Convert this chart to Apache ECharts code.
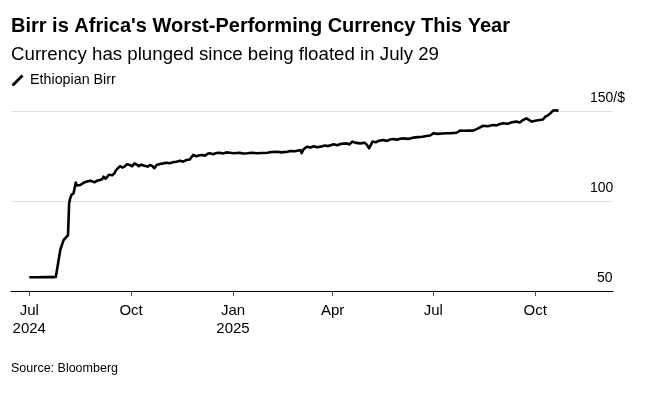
<!DOCTYPE html>
<html>
<head>
<meta charset="utf-8">
<script src="https://cdn.jsdelivr.net/npm/echarts@6/dist/echarts.min.js"></script>
<style>
    html, body { margin: 0; padding: 0; background: #fff; }
    #main { width: 657px; height: 397px; }
</style>
</head>
<body>
<div id="main"></div>
<script>
    // ETB per USD
    var dates = [
        '2024-07-01', '2024-07-08', '2024-07-15', '2024-07-22', '2024-07-25', '2024-07-29', '2024-07-31',
        '2024-08-01', '2024-08-05', '2024-08-06', '2024-08-07', '2024-08-08', '2024-08-10', '2024-08-12',
        '2024-08-13', '2024-08-14', '2024-08-16', '2024-08-19', '2024-08-20', '2024-08-22', '2024-08-25',
        '2024-08-27', '2024-08-29', '2024-08-31', '2024-09-03', '2024-09-05', '2024-09-06', '2024-09-08',
        '2024-09-09', '2024-09-11', '2024-09-12', '2024-09-14', '2024-09-16', '2024-09-17', '2024-09-19',
        '2024-09-20', '2024-09-21', '2024-09-23', '2024-09-25', '2024-09-27', '2024-09-30', '2024-10-02',
        '2024-10-04', '2024-10-06', '2024-10-08', '2024-10-10', '2024-10-13', '2024-10-16', '2024-10-18',
        '2024-10-20', '2024-10-22', '2024-10-24', '2024-10-27', '2024-10-30', '2024-11-02', '2024-11-05',
        '2024-11-08', '2024-11-11', '2024-11-14', '2024-11-17', '2024-11-20', '2024-11-23', '2024-11-26',
        '2024-11-29', '2024-12-01', '2024-12-04', '2024-12-07', '2024-12-09', '2024-12-11', '2024-12-14',
        '2024-12-17', '2024-12-20', '2024-12-23', '2024-12-26', '2024-12-29', '2025-01-02', '2025-01-07',
        '2025-01-10', '2025-01-14', '2025-01-18', '2025-01-23', '2025-01-27', '2025-02-01', '2025-02-05',
        '2025-02-10', '2025-02-14', '2025-02-19', '2025-02-22', '2025-02-26', '2025-03-03', '2025-03-04',
        '2025-03-06', '2025-03-09', '2025-03-12', '2025-03-15', '2025-03-18', '2025-03-21', '2025-03-25',
        '2025-03-28', '2025-04-02', '2025-04-05', '2025-04-09', '2025-04-14', '2025-04-16', '2025-04-19',
        '2025-04-22', '2025-04-26', '2025-04-30', '2025-05-02', '2025-05-04', '2025-05-07', '2025-05-10',
        '2025-05-13', '2025-05-17', '2025-05-20', '2025-05-23', '2025-05-26', '2025-05-29', '2025-06-01',
        '2025-06-04', '2025-06-08', '2025-06-13', '2025-06-17', '2025-06-21', '2025-06-25', '2025-06-28',
        '2025-07-01', '2025-07-05', '2025-07-09', '2025-07-13', '2025-07-17', '2025-07-22', '2025-07-25',
        '2025-07-29', '2025-08-02', '2025-08-06', '2025-08-10', '2025-08-15', '2025-08-19', '2025-08-24',
        '2025-08-27', '2025-08-30', '2025-09-02', '2025-09-06', '2025-09-10', '2025-09-14', '2025-09-17',
        '2025-09-20', '2025-09-23', '2025-09-26', '2025-09-28', '2025-10-01', '2025-10-05', '2025-10-08',
        '2025-10-10', '2025-10-12', '2025-10-14', '2025-10-17', '2025-10-20', '2025-10-22'
    ];
    var birr = [
        57.6, 57.6, 57.7, 57.7, 57.8, 72.8, 76.5,
        78.3, 81.1, 98.7, 101.5, 103.3, 104.3, 110.2,
        108.6, 109.4, 108.9, 110.1, 109.8, 110.8, 111.3,
        110.9, 110.4, 111.2, 111.7, 112.2, 113.5, 112.4,
        112.6, 114.6, 115.4, 114.3, 115.4, 116.8, 118.2,
        117.1, 119.4, 118.6, 119.1, 120.4, 120.0, 119.3,
        120.9, 120.3, 119.4, 120.2, 119.6, 119.1, 120.0,
        119.5, 118.2, 120.0, 120.6, 120.9, 121.3, 121.0,
        121.6, 121.8, 122.3, 121.9, 122.8, 123.1, 125.6,
        124.9, 125.3, 125.6, 125.2, 126.3, 126.5, 126.0,
        126.7, 126.8, 126.4, 127.0, 126.8, 126.5, 126.8,
        126.4, 126.5, 126.8, 126.5, 126.7, 126.8, 127.2,
        127.4, 127.0, 127.4, 127.8, 127.6, 128.3, 126.6,
        128.9, 130.2, 129.7, 130.4, 129.9, 130.2, 130.8,
        130.5, 131.5, 131.0, 131.8, 132.0, 131.4, 133.0,
        132.3, 132.0, 132.4, 131.2, 129.3, 133.0, 132.6,
        133.5, 133.9, 133.4, 134.2, 134.4, 134.0, 134.6,
        134.8, 134.5, 135.2, 135.5, 135.7, 136.1, 136.4,
        137.6, 137.3, 137.5, 137.6, 137.7, 137.9, 139.1,
        139.0, 139.2, 139.1, 140.2, 141.8, 141.5, 142.2,
        142.0, 142.8, 143.2, 142.9, 143.7, 144.1, 143.6,
        145.0, 145.9, 144.8, 144.1, 144.6, 145.0, 145.3,
        146.8, 147.4, 148.3, 150.2, 150.4, 150.0
    ];
    var tickDates = ['2024-07-01', '2024-10-01', '2025-01-01', '2025-04-01', '2025-07-01', '2025-10-01'];
    var tickLabels = ['Jul\n2024', 'Oct', 'Jan\n2025', 'Apr', 'Jul', 'Oct'];
    var yTicks = [50, 100, 150];

    var FONT = 'Liberation Sans';

    function ts(s) {
        return new Date(s + 'T00:00:00Z').getTime();
    }

    var tickTs = tickDates.map(ts);
    var seriesData = dates.map(function(d, i) { return [ts(d), birr[i]]; });

    var chart = echarts.init(document.getElementById('main'), null, { renderer: 'canvas' });

    var option = {
        animation: false,
        backgroundColor: '#fff',
        title: [{
            text: "Birr is Africa's Worst-Performing Currency This Year",
            left: 11,
            top: 16,
            padding: 0,
            textStyle: { fontFamily: FONT, fontSize: 20, fontWeight: 'bold', color: '#000' }
        }, {
            text: 'Currency has plunged since being floated in July 29',
            left: 11,
            top: 45.5,
            padding: 0,
            textStyle: { fontFamily: FONT, fontSize: 18.7, fontWeight: 'normal', color: '#000' }
        }, {
            text: 'Source: Bloomberg',
            left: 11,
            top: 362,
            padding: 0,
            textStyle: { fontFamily: FONT, fontSize: 12.5, fontWeight: 'normal', color: '#000' }
        }],
        legend: {
            left: 11.5,
            top: 73.5,
            padding: 0,
            itemWidth: 13,
            itemHeight: 12,
            icon: 'path://M0,10 L10,0 L12,2 L2,12 Z',
            textStyle: { fontFamily: FONT, fontSize: 14.3, color: '#000', padding: [0, 0, 0, 1] },
            data: ['Ethiopian Birr']
        },
        grid: {
            left: 11,
            right: 44,
            top: 111,
            bottom: 106,
            containLabel: false,
            outerBoundsMode: 'none'
        },
        xAxis: {
            type: 'value',
            min: new Date('2024-06-14T12:00:00Z').getTime(),
            max: new Date('2025-12-10T06:00:00Z').getTime(),
            axisLine: { show: true, lineStyle: { color: '#000', width: 1.2 } },
            axisTick: {
                show: true,
                customValues: tickTs,
                length: 5,
                lineStyle: { color: '#555', width: 1 }
            },
            axisLabel: {
                customValues: tickTs,
                margin: 11,
                fontFamily: FONT,
                fontSize: 15,
                lineHeight: 18,
                color: '#000',
                formatter: function(value) {
                    var i = tickTs.indexOf(value);
                    return i >= 0 ? tickLabels[i] : '';
                }
            },
            splitLine: { show: false }
        },
        yAxis: {
            type: 'value',
            position: 'right',
            min: yTicks[0],
            max: yTicks[yTicks.length - 1],
            interval: 50,
            axisLine: { show: false },
            axisTick: { show: false },
            axisLabel: {
                inside: true,
                margin: 23,
                align: 'left',
                verticalAlign: 'bottom',
                fontFamily: FONT,
                fontSize: 14,
                color: '#000',
                padding: [0, 0, 6, 0],
                formatter: function(value) {
                    if (value === 150) return '150/$';
                    if (value === 50) return '{s|50}';
                    return String(value);
                },
                rich: {
                    s: { fontFamily: FONT, fontSize: 14, color: '#000', padding: [0, 0, 0, 7] }
                }
            },
            splitLine: { show: true, lineStyle: { color: '#e2e2e2', width: 1 } }
        },
        series: [{
            name: 'Ethiopian Birr',
            type: 'line',
            data: seriesData,
            showSymbol: false,
            clip: false,
            color: '#000',
            lineStyle: { color: '#000', width: 2.6, join: 'round' }
        }]
    };

    chart.setOption(option);
</script>
</body>
</html>
